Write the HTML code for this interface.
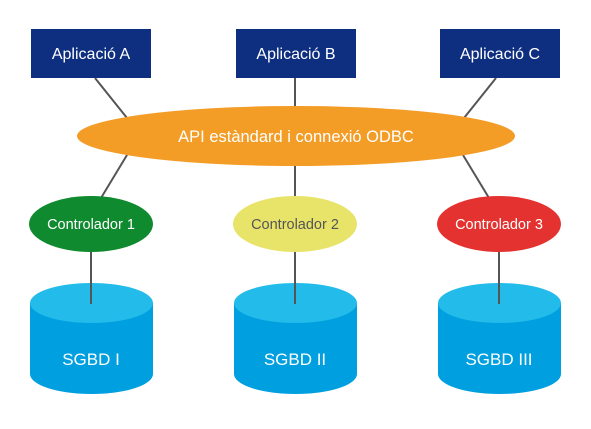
<!DOCTYPE html>
<html><head><style>body{margin:0;background:#fff}</style></head><body>
<svg width="591" height="424" xmlns="http://www.w3.org/2000/svg" font-family="Liberation Sans, sans-serif">
<rect width="591" height="424" fill="#fff"/>
<g stroke="#555" stroke-width="2">
<line x1="95" y1="78" x2="127" y2="118"/>
<line x1="295" y1="78" x2="295" y2="110"/>
<line x1="496" y1="78" x2="464" y2="118"/>
<line x1="127" y1="155" x2="101" y2="198"/>
<line x1="295" y1="160" x2="295" y2="198"/>
<line x1="463" y1="155" x2="489" y2="198"/>
</g>
<g fill="#0e2f80">
<rect x="31" y="29" width="120" height="49"/>
<rect x="236" y="29" width="120" height="49"/>
<rect x="440" y="29" width="120" height="49"/>
</g>
<g fill="#fff" font-size="16" text-anchor="middle">
<text x="91" y="59">Aplicació A</text>
<text x="296" y="59">Aplicació B</text>
<text x="500" y="59">Aplicació C</text>
</g>
<ellipse cx="296" cy="136" rx="219" ry="30" fill="#f39c26"/>
<text x="296" y="142" fill="#fff" font-size="16.5" text-anchor="middle">API estàndard i connexió ODBC</text>
<ellipse cx="91" cy="224" rx="62" ry="28" fill="#0f8a2e"/>
<ellipse cx="295" cy="224" rx="62" ry="28" fill="#e8e46a"/>
<ellipse cx="499" cy="224" rx="62" ry="28" fill="#e3322f"/>
<g font-size="14.5" text-anchor="middle">
<text x="91" y="229" fill="#fff">Controlador 1</text>
<text x="295" y="229" fill="#555">Controlador 2</text>
<text x="499" y="229" fill="#fff">Controlador 3</text>
</g>
<g>
<path d="M30 303 V374 A61.5 20 0 0 0 153 374 V303 Z" fill="#009fdf"/>
<ellipse cx="91.5" cy="303" rx="61.5" ry="20" fill="#22bbea"/>
<path d="M234 303 V374 A61.5 20 0 0 0 357 374 V303 Z" fill="#009fdf"/>
<ellipse cx="295.5" cy="303" rx="61.5" ry="20" fill="#22bbea"/>
<path d="M438 303 V374 A61.5 20 0 0 0 561 374 V303 Z" fill="#009fdf"/>
<ellipse cx="499.5" cy="303" rx="61.5" ry="20" fill="#22bbea"/>
</g>
<g stroke="#555" stroke-width="2">
<line x1="91" y1="252" x2="91" y2="304"/>
<line x1="295" y1="252" x2="295" y2="304"/>
<line x1="499" y1="252" x2="499" y2="304"/>
</g>
<g fill="#fff" font-size="17" text-anchor="middle">
<text x="91" y="365">SGBD I</text>
<text x="295" y="365">SGBD II</text>
<text x="499" y="365">SGBD III</text>
</g>
</svg>
</body></html>
